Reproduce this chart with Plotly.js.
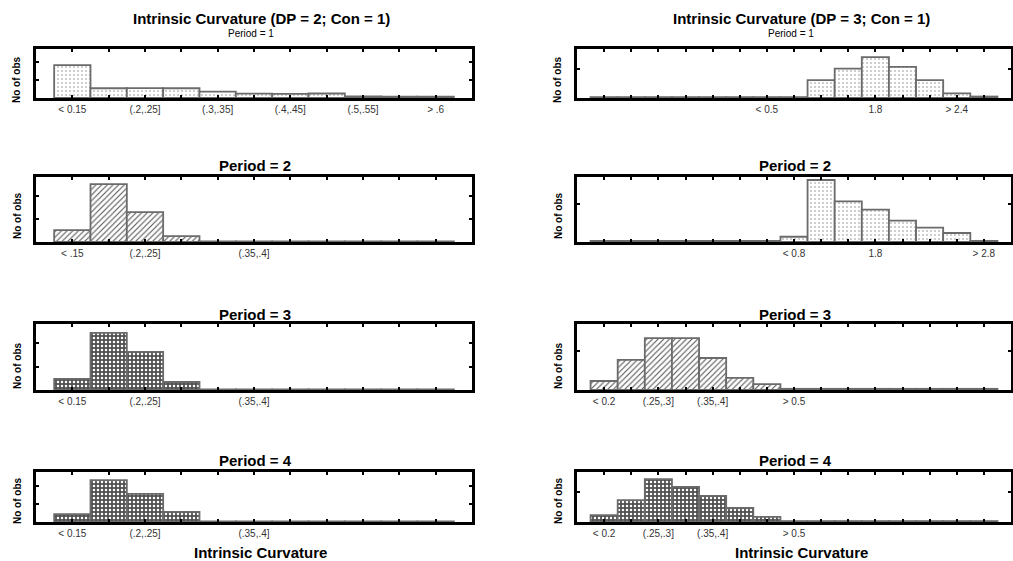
<!DOCTYPE html>
<html>
<head>
<meta charset="utf-8">
<script src="https://cdn.plot.ly/plotly-3.0.1.min.js"></script>
<style>
  html, body { margin: 0; padding: 0; background: #fff; }
  #chart { width: 1013px; height: 561px; }
</style>
</head>
<body>
<div id="chart"></div>
<script>
// Histogram bins (category positions along each axis)
const binsDP2 = [1, 2, 3, 4, 5, 6, 7, 8, 9, 10, 11];
const binsDP3 = [1, 2, 3, 4, 5, 6, 7, 8, 9, 10, 11, 12, 13, 14, 15];

// Tick labels shown under the bins
const labelsDP2P1 = ['< 0.15', '', '(.2,.25]', '', '(.3,.35]', '', '(.4,.45]', '', '(.5,.55]', '', '> .6'];
const labelsDP2P2 = ['< .15', '', '(.2,.25]', '', '', '(.35,.4]', '', '', '', '', ''];
const labelsDP2P34 = ['< 0.15', '', '(.2,.25]', '', '', '(.35,.4]', '', '', '', '', ''];
const labelsDP3P1 = ['', '', '', '', '', '', '< 0.5', '', '', '', '1.8', '', '', '> 2.4', ''];
const labelsDP3P2 = ['', '', '', '', '', '', '', '< 0.8', '', '', '1.8', '', '', '', '> 2.8'];
const labelsDP3P34 = ['< 0.2', '', '(.25,.3]', '', '(.35,.4]', '', '', '> 0.5', '', '', '', '', '', '', ''];

// Number of observations per bin
const obsDP2P1 = [183, 54, 55, 54, 35, 24, 23, 25, 9, 8, 8];
const obsDP2P2 = [52, 252, 130, 26, 3, 3, 3, 3, 3, 3, 3];
const obsDP2P3 = [47, 243, 162, 34, 3, 3, 3, 3, 3, 3, 3];
const obsDP2P4 = [44, 233, 156, 56, 3, 3, 3, 3, 3, 3, 3];
const obsDP3P1 = [3, 3, 3, 3, 3, 3, 3, 3, 61, 100, 139, 106, 61, 16, 5];
const obsDP3P2 = [3, 3, 3, 3, 3, 3, 3, 14, 165, 108, 86, 57, 38, 24, 3];
const obsDP3P3 = [23, 77, 133, 133, 82, 31, 15, 3, 3, 3, 3, 3, 3, 3, 3];
const obsDP3P4 = [23, 73, 143, 117, 87, 47, 17, 3, 3, 3, 3, 3, 3, 3, 3];

const W = 1013, H = 561;
const FONT = 'Liberation Sans, Arial, sans-serif';
const px = v => v / W;
const py = v => 1 - v / H;

// Fill styles for the bars
const fills = {
  stipple: { shape: '.', bgcolor: '#ffffff', fgcolor: '#8a8a8a', size: 4, solidity: 0.12 },
  hatch:   { shape: '/', bgcolor: '#ffffff', fgcolor: '#555555', size: 4, solidity: 0.28 },
  dense:   { shape: '.', bgcolor: '#505050', fgcolor: '#ffffff', size: 4, solidity: 0.32 }
};

// Frame boxes in pixels: columns (left/right) and rows (top/bottom)
const cols = [[36, 472], [577, 1011]];
const rows = [[49, 98], [177, 242], [324, 390], [472, 522]];

const panels = [
  { c: 0, r: 0, x: binsDP2, y: obsDP2P1, text: labelsDP2P1, fill: 'stipple', ymax: 272, yt: [100, 200] },
  { c: 0, r: 1, x: binsDP2, y: obsDP2P2, text: labelsDP2P2, fill: 'hatch',   ymax: 283, yt: [100, 200] },
  { c: 0, r: 2, x: binsDP2, y: obsDP2P3, text: labelsDP2P34, fill: 'dense',  ymax: 281, yt: [100, 200] },
  { c: 0, r: 3, x: binsDP2, y: obsDP2P4, text: labelsDP2P34, fill: 'dense',  ymax: 278, yt: [100, 200] },
  { c: 1, r: 0, x: binsDP3, y: obsDP3P1, text: labelsDP3P1, fill: 'stipple', ymax: 167, yt: [100] },
  { c: 1, r: 1, x: binsDP3, y: obsDP3P2, text: labelsDP3P2, fill: 'stipple', ymax: 173, yt: [100] },
  { c: 1, r: 2, x: binsDP3, y: obsDP3P3, text: labelsDP3P34, fill: 'hatch',  ymax: 169, yt: [100] },
  { c: 1, r: 3, x: binsDP3, y: obsDP3P4, text: labelsDP3P34, fill: 'dense',  ymax: 167, yt: [100] }
];

const data = [];
const layout = {
  width: W, height: H,
  margin: { l: 0, r: 0, t: 0, b: 0 },
  paper_bgcolor: '#ffffff', plot_bgcolor: '#ffffff',
  showlegend: false,
  bargap: 0,
  font: { family: FONT, color: '#000' },
  annotations: []
};

panels.forEach((p, i) => {
  const k = i === 0 ? '' : String(i + 1);
  data.push({
    type: 'bar',
    x: p.x, y: p.y, width: 1,
    xaxis: 'x' + k, yaxis: 'y' + k,
    marker: {
      color: fills[p.fill].bgcolor,
      line: { color: '#6b6b6b', width: 1.8 },
      pattern: fills[p.fill]
    },
    hoverinfo: 'skip'
  });
  const frame = {
    showline: true, linecolor: '#000', linewidth: 3, mirror: 'ticks',
    ticks: 'inside', ticklen: 3, tickwidth: 2, tickcolor: '#000',
    showgrid: false, zeroline: false, fixedrange: true
  };
  layout['xaxis' + k] = Object.assign({}, frame, {
    anchor: 'y' + k,
    domain: [px(cols[p.c][0]), px(cols[p.c][1])],
    range: [0, p.x.length + 1],
    tickmode: 'array', tickvals: p.x, ticktext: p.text,
    tickfont: { family: FONT, size: 10, color: '#333' }
  });
  layout['yaxis' + k] = Object.assign({}, frame, {
    anchor: 'x' + k,
    domain: [py(rows[p.r][1]), py(rows[p.r][0])],
    range: [0, p.ymax],
    tickmode: 'array', tickvals: p.yt,
    showticklabels: false
  });
});

function note(text, x, y, size, bold, angle) {
  layout.annotations.push({
    text: text, xref: 'paper', yref: 'paper', x: px(x), y: py(y),
    xanchor: 'center', yanchor: 'middle', showarrow: false,
    textangle: angle || 0,
    font: { family: FONT, size: size, color: '#000', weight: bold ? 'bold' : 'normal' }
  });
}

// Titles
note('Intrinsic Curvature (DP = 2; Con = 1)', 261, 19, 15, true);
note('Intrinsic Curvature (DP = 3; Con = 1)', 801, 19, 15, true);
note('Period = 1', 251, 33, 10, false);
note('Period = 1', 791, 33, 10, false);
[['Period = 2', 165], ['Period = 3', 314], ['Period = 4', 460]].forEach(t => {
  note(t[0], 255, t[1], 15, true);
  note(t[0], 795, t[1], 15, true);
});

// Axis labels
[80, 216, 366, 501].forEach(y => {
  note('No of obs', 17, y, 10, true, -90);
  note('No of obs', 558, y, 10, true, -90);
});
note('Intrinsic Curvature', 260, 552, 15, true);
note('Intrinsic Curvature', 801, 552, 15, true);

Plotly.newPlot('chart', data, layout, { staticPlot: true, displayModeBar: false });
</script>
</body>
</html>
